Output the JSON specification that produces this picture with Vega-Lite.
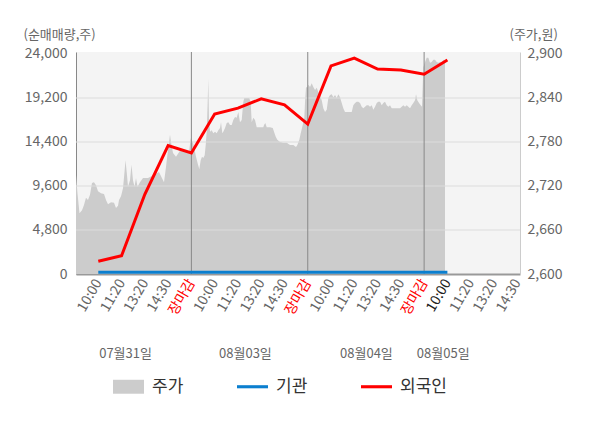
{
  "$schema": "https://vega.github.io/schema/vega-lite/v6.json",
  "autosize": {"type": "none"},
  "width": 444,
  "height": 222,
  "padding": {"left": 76, "top": 52, "right": 80, "bottom": 154},
  "background": "#ffffff",
  "datasets": {
    "price": [
      {"t": -0.958, "series": "주가", "price": 2735}, {"t": -0.894, "series": "주가", "price": 2710},
      {"t": -0.808, "series": "주가", "price": 2683}, {"t": -0.700, "series": "주가", "price": 2687},
      {"t": -0.615, "series": "주가", "price": 2694}, {"t": -0.529, "series": "주가", "price": 2704},
      {"t": -0.443, "series": "주가", "price": 2701}, {"t": -0.357, "series": "주가", "price": 2708},
      {"t": -0.271, "series": "주가", "price": 2724}, {"t": -0.185, "series": "주가", "price": 2725},
      {"t": -0.099, "series": "주가", "price": 2721}, {"t": -0.013, "series": "주가", "price": 2713},
      {"t": 0.116, "series": "주가", "price": 2710}, {"t": 0.245, "series": "주가", "price": 2709},
      {"t": 0.331, "series": "주가", "price": 2701}, {"t": 0.417, "series": "주가", "price": 2695},
      {"t": 0.546, "series": "주가", "price": 2698}, {"t": 0.675, "series": "주가", "price": 2697},
      {"t": 0.761, "series": "주가", "price": 2690}, {"t": 0.847, "series": "주가", "price": 2693},
      {"t": 0.890, "series": "주가", "price": 2701}, {"t": 0.976, "series": "주가", "price": 2706},
      {"t": 1.062, "series": "주가", "price": 2717}, {"t": 1.126, "series": "주가", "price": 2739},
      {"t": 1.169, "series": "주가", "price": 2755}, {"t": 1.233, "series": "주가", "price": 2735},
      {"t": 1.276, "series": "주가", "price": 2719}, {"t": 1.362, "series": "주가", "price": 2728},
      {"t": 1.427, "series": "주가", "price": 2749}, {"t": 1.491, "series": "주가", "price": 2728},
      {"t": 1.556, "series": "주가", "price": 2719}, {"t": 1.620, "series": "주가", "price": 2731},
      {"t": 1.685, "series": "주가", "price": 2719}, {"t": 1.792, "series": "주가", "price": 2725},
      {"t": 1.921, "series": "주가", "price": 2731}, {"t": 2.136, "series": "주가", "price": 2731},
      {"t": 2.394, "series": "주가", "price": 2735}, {"t": 2.608, "series": "주가", "price": 2739},
      {"t": 2.823, "series": "주가", "price": 2725}, {"t": 2.909, "series": "주가", "price": 2746},
      {"t": 2.995, "series": "주가", "price": 2769}, {"t": 3.081, "series": "주가", "price": 2790},
      {"t": 3.124, "series": "주가", "price": 2780}, {"t": 3.210, "series": "주가", "price": 2765},
      {"t": 3.339, "series": "주가", "price": 2760}, {"t": 3.511, "series": "주가", "price": 2768},
      {"t": 3.726, "series": "주가", "price": 2769}, {"t": 3.898, "series": "주가", "price": 2766},
      {"t": 3.971, "series": "주가", "price": 2785}, {"t": 4.057, "series": "주가", "price": 2780},
      {"t": 4.113, "series": "주가", "price": 2773}, {"t": 4.199, "series": "주가", "price": 2760},
      {"t": 4.285, "series": "주가", "price": 2749}, {"t": 4.340, "series": "주가", "price": 2743},
      {"t": 4.401, "series": "주가", "price": 2755}, {"t": 4.456, "series": "주가", "price": 2760},
      {"t": 4.512, "series": "주가", "price": 2758}, {"t": 4.572, "series": "주가", "price": 2762},
      {"t": 4.615, "series": "주가", "price": 2776}, {"t": 4.658, "series": "주가", "price": 2794},
      {"t": 4.701, "series": "주가", "price": 2835}, {"t": 4.727, "series": "주가", "price": 2866},
      {"t": 4.757, "series": "주가", "price": 2810}, {"t": 4.800, "series": "주가", "price": 2794},
      {"t": 4.873, "series": "주가", "price": 2796}, {"t": 4.942, "series": "주가", "price": 2792},
      {"t": 5.015, "series": "주가", "price": 2794}, {"t": 5.088, "series": "주가", "price": 2792},
      {"t": 5.157, "series": "주가", "price": 2796}, {"t": 5.230, "series": "주가", "price": 2799},
      {"t": 5.273, "series": "주가", "price": 2807}, {"t": 5.329, "series": "주가", "price": 2792},
      {"t": 5.372, "series": "주가", "price": 2794}, {"t": 5.445, "series": "주가", "price": 2799},
      {"t": 5.518, "series": "주가", "price": 2806}, {"t": 5.587, "series": "주가", "price": 2807},
      {"t": 5.660, "series": "주가", "price": 2803}, {"t": 5.733, "series": "주가", "price": 2803},
      {"t": 5.801, "series": "주가", "price": 2810}, {"t": 5.875, "series": "주가", "price": 2814},
      {"t": 5.948, "series": "주가", "price": 2813}, {"t": 6.016, "series": "주가", "price": 2821},
      {"t": 6.089, "series": "주가", "price": 2807}, {"t": 6.162, "series": "주가", "price": 2810},
      {"t": 6.231, "series": "주가", "price": 2835}, {"t": 6.274, "series": "주가", "price": 2840},
      {"t": 6.377, "series": "주가", "price": 2840}, {"t": 6.489, "series": "주가", "price": 2840},
      {"t": 6.549, "series": "주가", "price": 2833}, {"t": 6.592, "series": "주가", "price": 2807},
      {"t": 6.661, "series": "주가", "price": 2813}, {"t": 6.734, "series": "주가", "price": 2810},
      {"t": 6.807, "series": "주가", "price": 2800}, {"t": 6.949, "series": "주가", "price": 2800},
      {"t": 7.091, "series": "주가", "price": 2800}, {"t": 7.121, "series": "주가", "price": 2803},
      {"t": 7.177, "series": "주가", "price": 2806}, {"t": 7.237, "series": "주가", "price": 2800},
      {"t": 7.379, "series": "주가", "price": 2800}, {"t": 7.495, "series": "주가", "price": 2799},
      {"t": 7.550, "series": "주가", "price": 2794}, {"t": 7.624, "series": "주가", "price": 2787},
      {"t": 7.692, "series": "주가", "price": 2783}, {"t": 7.808, "series": "주가", "price": 2780},
      {"t": 7.950, "series": "주가", "price": 2779}, {"t": 8.096, "series": "주가", "price": 2779},
      {"t": 8.238, "series": "주가", "price": 2776}, {"t": 8.380, "series": "주가", "price": 2776},
      {"t": 8.496, "series": "주가", "price": 2773}, {"t": 8.552, "series": "주가", "price": 2776},
      {"t": 8.638, "series": "주가", "price": 2783}, {"t": 8.698, "series": "주가", "price": 2792},
      {"t": 8.784, "series": "주가", "price": 2803}, {"t": 8.853, "series": "주가", "price": 2813},
      {"t": 8.883, "series": "주가", "price": 2835}, {"t": 8.926, "series": "주가", "price": 2855},
      {"t": 8.981, "series": "주가", "price": 2854}, {"t": 9.025, "series": "주가", "price": 2858},
      {"t": 9.098, "series": "주가", "price": 2855}, {"t": 9.171, "series": "주가", "price": 2860},
      {"t": 9.240, "series": "주가", "price": 2855}, {"t": 9.313, "series": "주가", "price": 2851},
      {"t": 9.386, "series": "주가", "price": 2854}, {"t": 9.454, "series": "주가", "price": 2848},
      {"t": 9.527, "series": "주가", "price": 2844}, {"t": 9.600, "series": "주가", "price": 2837},
      {"t": 9.669, "series": "주가", "price": 2826}, {"t": 9.742, "series": "주가", "price": 2821},
      {"t": 9.815, "series": "주가", "price": 2824}, {"t": 9.884, "series": "주가", "price": 2840},
      {"t": 9.957, "series": "주가", "price": 2844}, {"t": 10.030, "series": "주가", "price": 2845},
      {"t": 10.099, "series": "주가", "price": 2841}, {"t": 10.172, "series": "주가", "price": 2844},
      {"t": 10.245, "series": "주가", "price": 2840}, {"t": 10.314, "series": "주가", "price": 2845},
      {"t": 10.387, "series": "주가", "price": 2841}, {"t": 10.460, "series": "주가", "price": 2833},
      {"t": 10.528, "series": "주가", "price": 2826}, {"t": 10.601, "series": "주가", "price": 2821},
      {"t": 10.743, "series": "주가", "price": 2821}, {"t": 10.890, "series": "주가", "price": 2821},
      {"t": 10.958, "series": "주가", "price": 2830}, {"t": 11.031, "series": "주가", "price": 2833},
      {"t": 11.104, "series": "주가", "price": 2835}, {"t": 11.173, "series": "주가", "price": 2835},
      {"t": 11.246, "series": "주가", "price": 2833}, {"t": 11.319, "series": "주가", "price": 2828},
      {"t": 11.388, "series": "주가", "price": 2826}, {"t": 11.461, "series": "주가", "price": 2828},
      {"t": 11.534, "series": "주가", "price": 2830}, {"t": 11.603, "series": "주가", "price": 2830},
      {"t": 11.676, "series": "주가", "price": 2828}, {"t": 11.749, "series": "주가", "price": 2830},
      {"t": 11.818, "series": "주가", "price": 2824}, {"t": 11.891, "series": "주가", "price": 2828},
      {"t": 11.964, "series": "주가", "price": 2833}, {"t": 12.032, "series": "주가", "price": 2835},
      {"t": 12.106, "series": "주가", "price": 2835}, {"t": 12.179, "series": "주가", "price": 2830},
      {"t": 12.247, "series": "주가", "price": 2833}, {"t": 12.320, "series": "주가", "price": 2835},
      {"t": 12.393, "series": "주가", "price": 2830}, {"t": 12.462, "series": "주가", "price": 2828},
      {"t": 12.535, "series": "주가", "price": 2830}, {"t": 12.608, "series": "주가", "price": 2826},
      {"t": 12.750, "series": "주가", "price": 2826}, {"t": 12.892, "series": "주가", "price": 2826},
      {"t": 12.965, "series": "주가", "price": 2826}, {"t": 13.038, "series": "주가", "price": 2828},
      {"t": 13.107, "series": "주가", "price": 2830}, {"t": 13.180, "series": "주가", "price": 2828},
      {"t": 13.253, "series": "주가", "price": 2830}, {"t": 13.322, "series": "주가", "price": 2828},
      {"t": 13.395, "series": "주가", "price": 2826}, {"t": 13.468, "series": "주가", "price": 2830},
      {"t": 13.536, "series": "주가", "price": 2833}, {"t": 13.609, "series": "주가", "price": 2837},
      {"t": 13.652, "series": "주가", "price": 2845}, {"t": 13.708, "series": "주가", "price": 2837},
      {"t": 13.781, "series": "주가", "price": 2833}, {"t": 13.854, "series": "주가", "price": 2830},
      {"t": 13.910, "series": "주가", "price": 2828}, {"t": 13.966, "series": "주가", "price": 2882},
      {"t": 14.039, "series": "주가", "price": 2889}, {"t": 14.112, "series": "주가", "price": 2895},
      {"t": 14.181, "series": "주가", "price": 2895}, {"t": 14.254, "series": "주가", "price": 2888},
      {"t": 14.327, "series": "주가", "price": 2889}, {"t": 14.396, "series": "주가", "price": 2892},
      {"t": 14.469, "series": "주가", "price": 2892}, {"t": 14.542, "series": "주가", "price": 2889},
      {"t": 14.611, "series": "주가", "price": 2888}, {"t": 14.684, "series": "주가", "price": 2889},
      {"t": 14.756, "series": "주가", "price": 2888}, {"t": 14.825, "series": "주가", "price": 2892},
      {"t": 14.898, "series": "주가", "price": 2889}
    ],
    "flow": [
      {"t": 0, "series": "기관", "qty": 200}, {"t": 1, "series": "기관", "qty": 200},
      {"t": 2, "series": "기관", "qty": 200}, {"t": 3, "series": "기관", "qty": 200},
      {"t": 4, "series": "기관", "qty": 200}, {"t": 5, "series": "기관", "qty": 200},
      {"t": 6, "series": "기관", "qty": 200}, {"t": 7, "series": "기관", "qty": 200},
      {"t": 8, "series": "기관", "qty": 200}, {"t": 9, "series": "기관", "qty": 200},
      {"t": 10, "series": "기관", "qty": 200}, {"t": 11, "series": "기관", "qty": 200},
      {"t": 12, "series": "기관", "qty": 200}, {"t": 13, "series": "기관", "qty": 200},
      {"t": 14, "series": "기관", "qty": 200}, {"t": 15, "series": "기관", "qty": 200},
      {"t": 0, "series": "외국인", "qty": 1400}, {"t": 1, "series": "외국인", "qty": 2000},
      {"t": 2, "series": "외국인", "qty": 8700}, {"t": 3, "series": "외국인", "qty": 14000},
      {"t": 4, "series": "외국인", "qty": 13200}, {"t": 5, "series": "외국인", "qty": 17450},
      {"t": 6, "series": "외국인", "qty": 18100}, {"t": 7, "series": "외국인", "qty": 19100},
      {"t": 8, "series": "외국인", "qty": 18450}, {"t": 9, "series": "외국인", "qty": 16350},
      {"t": 10, "series": "외국인", "qty": 22700}, {"t": 11, "series": "외국인", "qty": 23550},
      {"t": 12, "series": "외국인", "qty": 22350}, {"t": 13, "series": "외국인", "qty": 22250},
      {"t": 14, "series": "외국인", "qty": 21800}, {"t": 15, "series": "외국인", "qty": 23350}
    ],
    "close": [{"t": 4}, {"t": 9}, {"t": 14}],
    "grid": [{"v": 4800}, {"v": 9600}, {"v": 14400}, {"v": 19200}],
    "dates": [
      {"t": 1.15, "date": "07월31일"}, {"t": 6.3, "date": "08월03일"},
      {"t": 11.5, "date": "08월04일"}, {"t": 14.8, "date": "08월05일"}
    ]
  },
  "layer": [
    {
      "encoding": {
        "x": {
          "field": "t", "type": "quantitative",
          "scale": {"domain": [-0.958, 18.12], "nice": false, "zero": false},
          "axis": {
            "title": null,
            "values": [0, 1, 2, 3, 4, 5, 6, 7, 8, 9, 10, 11, 12, 13, 14, 15, 16, 17, 18],
            "labelExpr": "['10:00', '11:20', '13:20', '14:30', '장마감'][datum.value % 5]",
            "labelAngle": -60,
            "labelAlign": "right",
            "labelBaseline": "middle",
            "labelFontSize": 14,
            "labelPadding": 6,
            "labelOverlap": false,
            "labelBound": false,
            "labelFlush": false,
            "labelColor": {
              "condition": [
                {"test": "datum.value % 5 == 4", "value": "#ff0000"},
                {"test": "datum.value == 15", "value": "#222222"}
              ],
              "value": "#666666"
            },
            "ticks": false,
            "grid": false,
            "domainColor": "#999999",
            "domainWidth": 2
          }
        }
      },
      "layer": [
        {
          "data": {"name": "price"},
          "mark": {"type": "area", "interpolate": "linear", "clip": true},
          "encoding": {
            "y": {
              "field": "price", "type": "quantitative",
              "scale": {"domain": [2600, 2902.7], "nice": false, "zero": false},
              "axis": {
                "orient": "right",
                "values": [2600, 2660, 2720, 2780, 2840, 2900],
                "labelExpr": "format(datum.value, ',')",
                "grid": false,
                "ticks": false,
                "domainColor": "#cccccc",
                "labelPadding": 7,
                "title": "(주가,원)",
                "titleAngle": 0,
                "titleAlign": "left",
                "titleBaseline": "alphabetic",
                "titleX": -11,
                "titleY": -14
              }
            },
            "color": {
              "field": "series", "type": "nominal",
              "scale": {"domain": ["주가", "기관", "외국인"], "range": ["#cccccc", "#0b7fcf", "#ff0000"]},
              "legend": {
                "title": null,
                "orient": "none",
                "legendX": 37,
                "legendY": 319,
                "direction": "horizontal",
                "symbolType": "M-1,-0.45H1V0.45H-1Z",
                "symbolSize": 961,
                "symbolStrokeWidth": 0,
                "labelFontSize": 17,
                "labelColor": "#333333",
                "labelOffset": 8,
                "columnPadding": 53,
                "encode": {
                  "symbols": {
                    "update": {
                      "shape": {"signal": "datum.value === '주가' ? 'M-1,-0.45H1V0.45H-1Z' : 'M-1,-0.1H1V0.1H-1Z'"},
                      "fill": {"signal": "datum.value === '주가' ? '#cccccc' : (datum.value === '기관' ? '#0b7fcf' : '#ff0000')"},
                      "strokeWidth": {"value": 0},
                      "opacity": {"value": 1}
                    }
                  }
                }
              }
            }
          }
        },
        {
          "layer": [
            {
              "data": {"name": "grid"},
              "mark": {"type": "rule", "color": "#dddddd", "strokeWidth": 1},
              "encoding": {"x": null, "y": {"field": "v", "type": "quantitative"}}
            },
            {
              "data": {"name": "close"},
              "mark": {"type": "rule", "color": "#888888", "strokeWidth": 1},
              "encoding": {}
            },
            {
              "data": {"name": "flow"},
              "mark": {"type": "line", "strokeWidth": 3},
              "encoding": {
                "y": {
                  "field": "qty", "type": "quantitative",
                  "scale": {"domain": [0, 24218], "nice": false},
                  "axis": {
                    "orient": "left",
                    "values": [0, 4800, 9600, 14400, 19200, 24000],
                    "labelExpr": "format(datum.value, ',')",
                    "grid": false,
                    "ticks": false,
                    "domainColor": "#888888",
                    "labelPadding": 9,
                    "title": "(순매매량,주)",
                    "titleAngle": 0,
                    "titleAlign": "left",
                    "titleBaseline": "alphabetic",
                    "titleX": -53,
                    "titleY": -14
                  }
                },
                "color": {"field": "series", "type": "nominal"}
              }
            }
          ]
        }
      ],
      "resolve": {"scale": {"y": "independent"}}
    },
    {
      "data": {"name": "dates"},
      "mark": {"type": "point", "opacity": 0},
      "encoding": {
        "x": {
          "field": "t", "type": "quantitative",
          "scale": {"domain": [-0.958, 18.12], "nice": false, "zero": false},
          "axis": {
            "orient": "bottom",
            "offset": 70,
            "values": [1.15, 6.3, 11.5, 14.8],
            "labelExpr": "datum.value < 3 ? '07월31일' : (datum.value < 9 ? '08월03일' : (datum.value < 13 ? '08월04일' : '08월05일'))",
            "labelFontSize": 13,
            "labelPadding": 3,
            "labelBaseline": "top",
            "labelOverlap": false,
            "labelFlush": false,
            "domain": false,
            "ticks": false,
            "grid": false,
            "title": null
          }
        }
      }
    }
  ],
  "resolve": {"scale": {"x": "independent"}},
  "config": {
    "font": "Noto Sans CJK KR",
    "view": {"fill": "#f4f4f4", "stroke": null},
    "axis": {
      "labelFont": "Noto Sans CJK KR",
      "labelFontSize": 14,
      "labelColor": "#666666",
      "titleFont": "Noto Sans CJK KR",
      "titleFontSize": 13,
      "titleFontWeight": "normal",
      "titleColor": "#666666"
    },
    "legend": {"labelFont": "Noto Sans CJK KR"}
  }
}
